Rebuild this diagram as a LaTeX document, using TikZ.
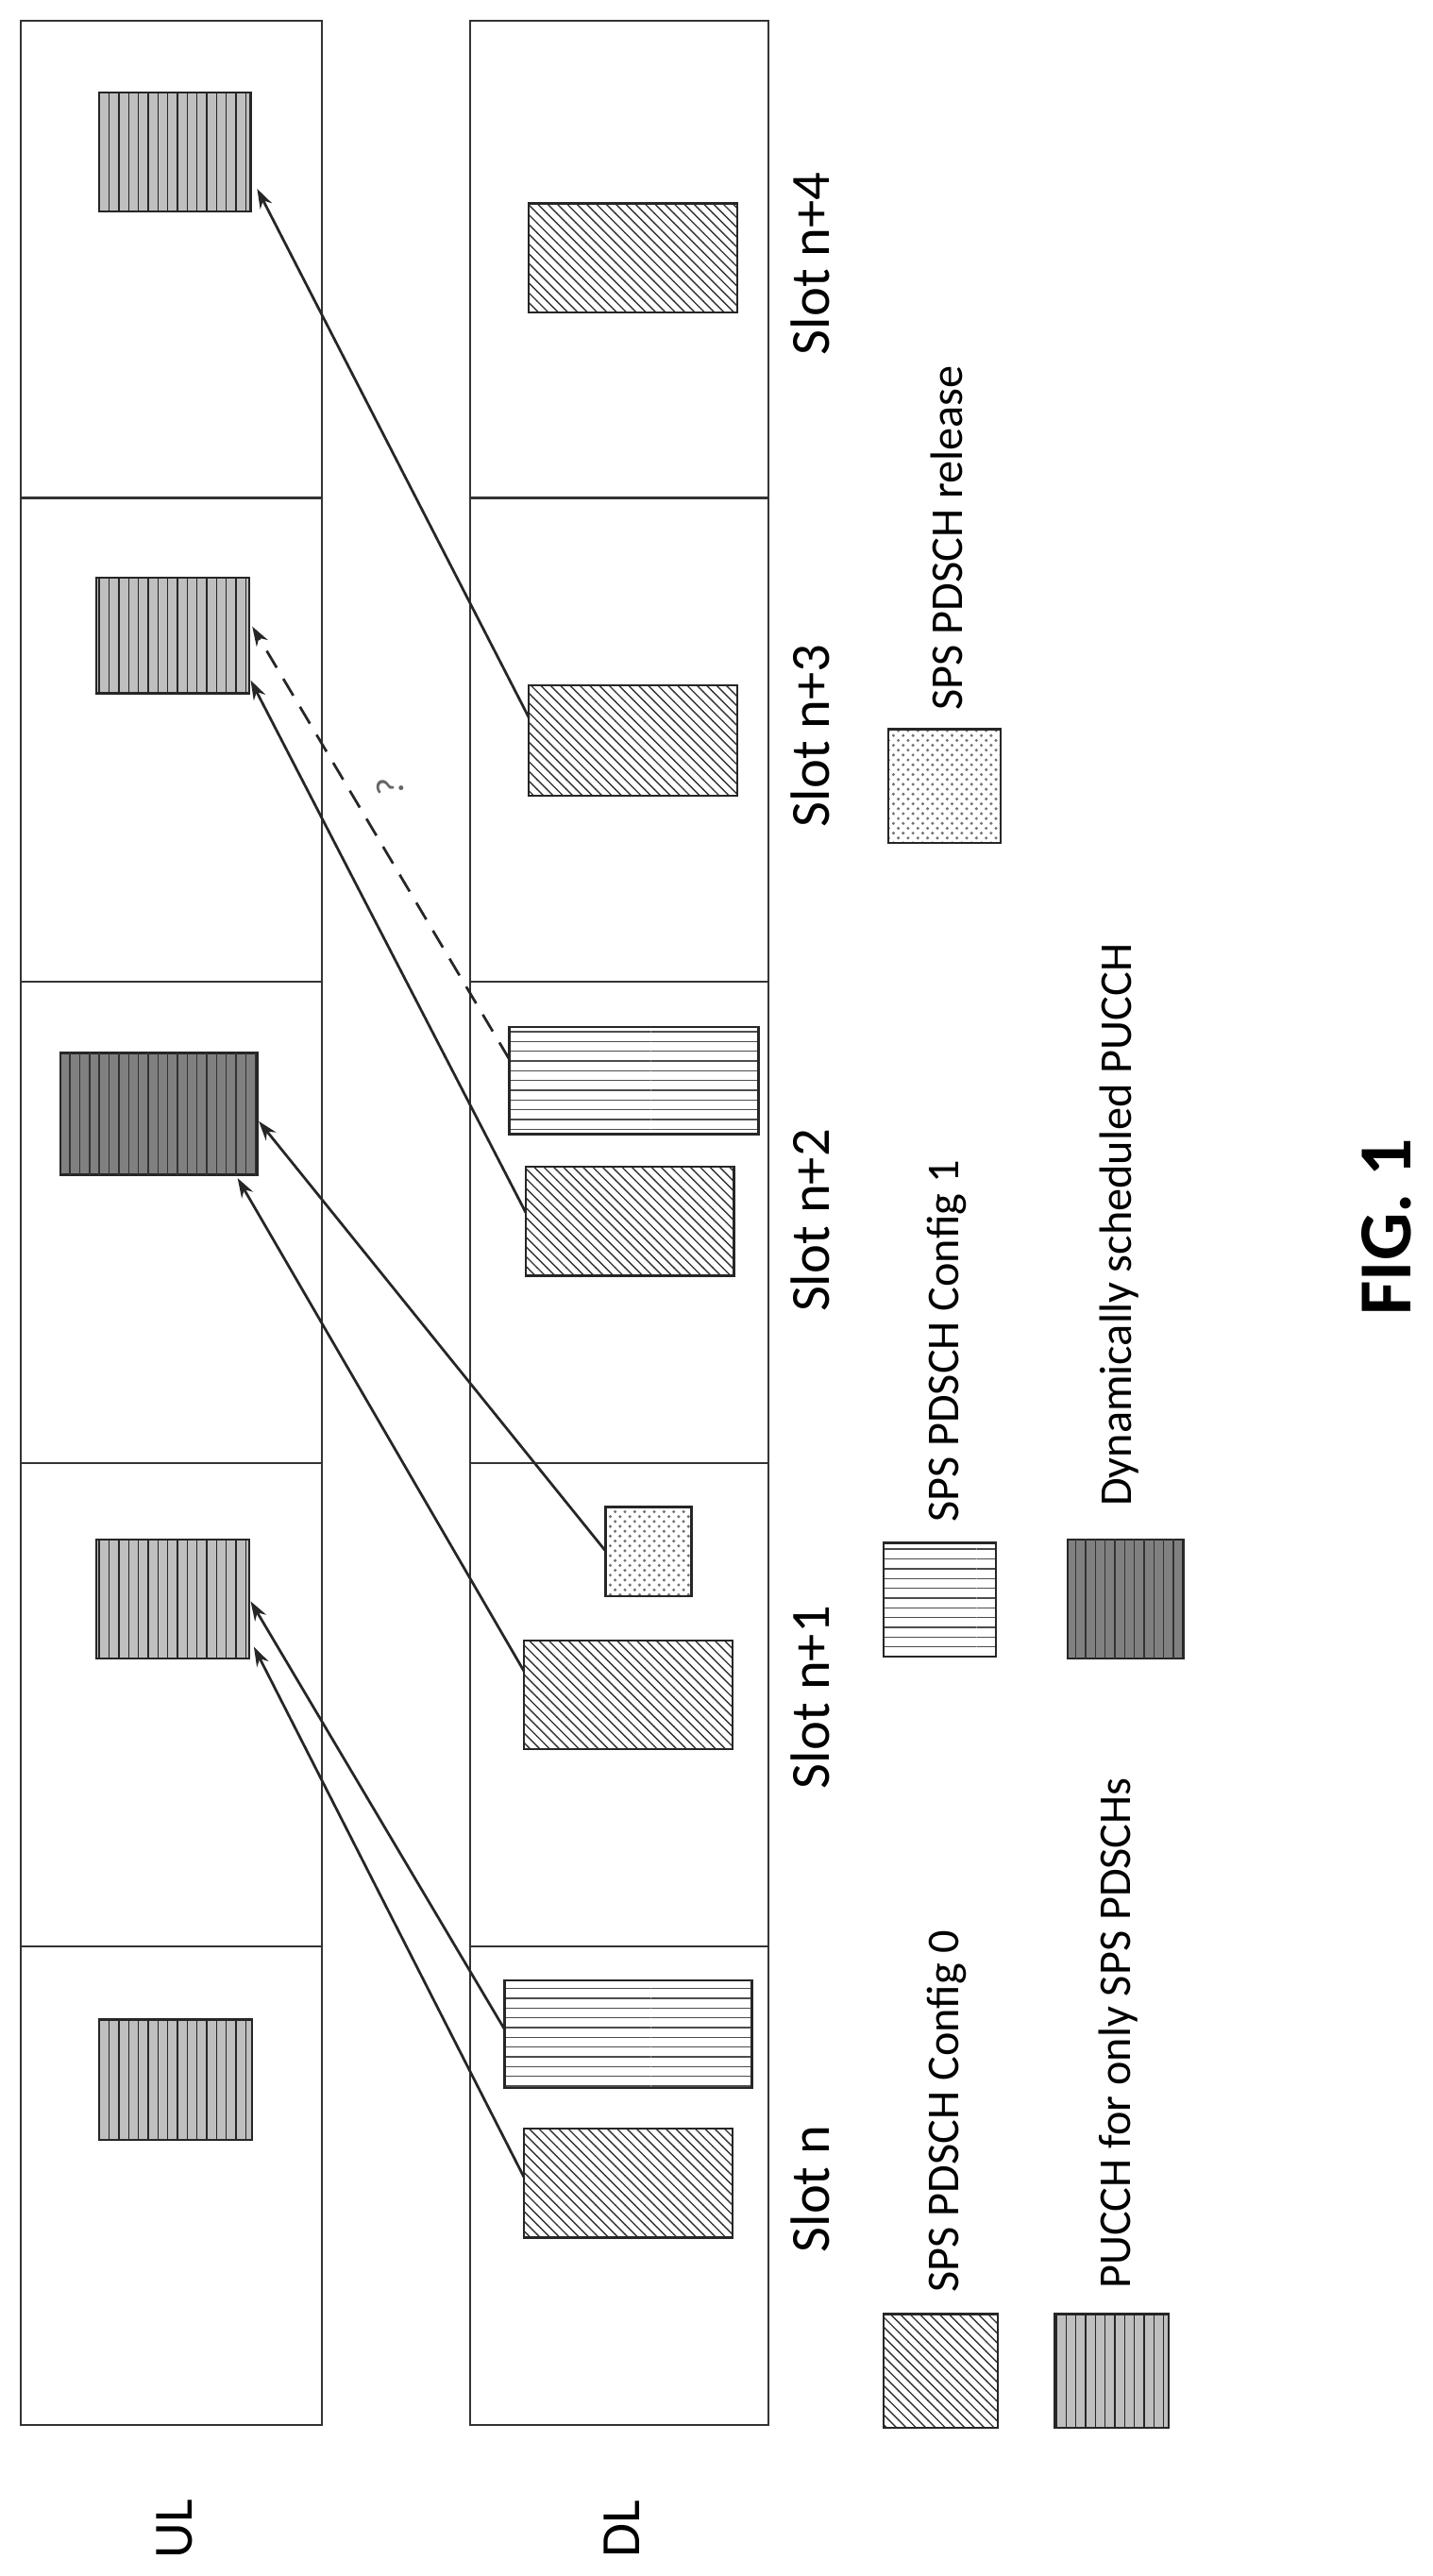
\documentclass[tikz,border=0pt]{standalone}
\usepackage{fontspec}
\setmainfont{Carlito}
\usetikzlibrary{patterns,arrows.meta}
\begin{document}
\begin{tikzpicture}[x=0.5pt,y=-0.5pt,
  strip/.style={draw=black!80,line width=0.6pt},
  blk/.style={draw=black!85,line width=0.7pt},
  diag/.style={blk,pattern=north west lines,pattern color=black!80},
  hor/.style={blk,pattern=horizontal lines,pattern color=black!70},
  ver/.style={blk,fill=black!25,postaction={pattern=vertical lines,pattern color=black!85}},
  dyn/.style={blk,fill=black!50,postaction={pattern=vertical lines,pattern color=black!80}},
  dot/.style={blk,pattern=crosshatch dots,pattern color=black!55},
  arr/.style={-{Stealth[length=6pt,width=4pt]},line width=0.8pt,black!85},
  lbl/.style={rotate=90,font=\fontsize{17}{19}\selectfont},
  lgd/.style={rotate=90,anchor=west,inner sep=0pt,font=\fontsize{14}{16}\selectfont}]
\useasboundingbox (0,0) rectangle (880,1583);
% strips
\draw[strip] (13,13) rectangle (198,1490);
\draw[strip] (289,13) rectangle (472,1490);
\foreach \y in {306,603,899,1196}{
  \draw[strip] (13,\y) -- (198,\y);
  \draw[strip] (289,\y) -- (472,\y);}
% UL boxes
\draw[ver] (61,1241) rectangle (155,1315);
\draw[ver] (59,946) rectangle (153,1019);
\draw[dyn] (37,647) rectangle (158,722);
\draw[ver] (59,355) rectangle (153,426);
\draw[ver] (61,57) rectangle (154,130);
% DL boxes
\draw[diag] (322,1308) rectangle (450,1375);
\draw[hor] (310,1217) rectangle (462,1283);
\draw[diag] (322,1008) rectangle (450,1075);
\draw[dot] (372,926) rectangle (425,981);
\draw[diag] (323,717) rectangle (451,784);
\draw[hor] (313,631) rectangle (466,697);
\draw[diag] (325,421) rectangle (453,489);
\draw[diag] (325,125) rectangle (453,192);
% connector ends
\coordinate (d0) at (322,1338);
\coordinate (h0) at (310,1247);
\coordinate (d1) at (322,1027);
\coordinate (p1) at (372,953);
\coordinate (d2) at (323,745);
\coordinate (h2) at (313,651);
\coordinate (d3) at (325,441);
\coordinate (t1a) at (154,984);
\coordinate (t1b) at (156,1012);
\coordinate (t2a) at (159,689);
\coordinate (t2b) at (146,724);
\coordinate (t3a) at (154,418);
\coordinate (t3b) at (155,385);
\coordinate (t4) at (158,116);
\draw[arr] (d0) -- (t1b);
\draw[arr] (h0) -- (t1a);
\draw[arr] (d1) -- (t2b);
\draw[arr] (p1) -- (t2a);
\draw[arr] (d2) -- (t3a);
\draw[arr,dashed,dash pattern=on 6pt off 4pt] (h2) -- (t3b);
\draw[arr] (d3) -- (t4);
\node[rotate=90,font=\fontsize{12}{14}\selectfont,text=black!60] (q) at (240,484) {?};
% slot labels
\node[lbl] (s0) at (498,1345) {Slot n};
\node[lbl] (s1) at (498,1043) {Slot n+1};
\node[lbl] (s2) at (498,750) {Slot n+2};
\node[lbl] (s3) at (498,452) {Slot n+3};
\node[lbl] (s4) at (498,162) {Slot n+4};
\node[lbl] (ul) at (107,1554) {UL};
\node[lbl] (dl) at (382,1554) {DL};
% legend
\draw[diag] (543,1422) rectangle (613,1492);
\node[lgd] (l0) at (582,1409) {SPS PDSCH Config 0};
\draw[ver] (648,1422) rectangle (718,1492);
\node[lgd] (l1) at (687,1407) {PUCCH for only SPS PDSCHs};
\draw[hor] (543,948) rectangle (612,1018);
\node[lgd] (l2) at (582,936) {SPS PDSCH Config 1};
\draw[dyn] (656,946) rectangle (727,1019);
\node[lgd] (l3) at (688,926) {Dynamically scheduled PUCCH};
\draw[dot] (546,448) rectangle (615,518);
\node[lgd] (l4) at (582,437) {SPS PDSCH release};
\node[rotate=90,inner sep=0pt,font=\fontsize{23}{26}\selectfont\bfseries] (fig) at (852,754) {FIG. 1};
\end{tikzpicture}
\end{document}
